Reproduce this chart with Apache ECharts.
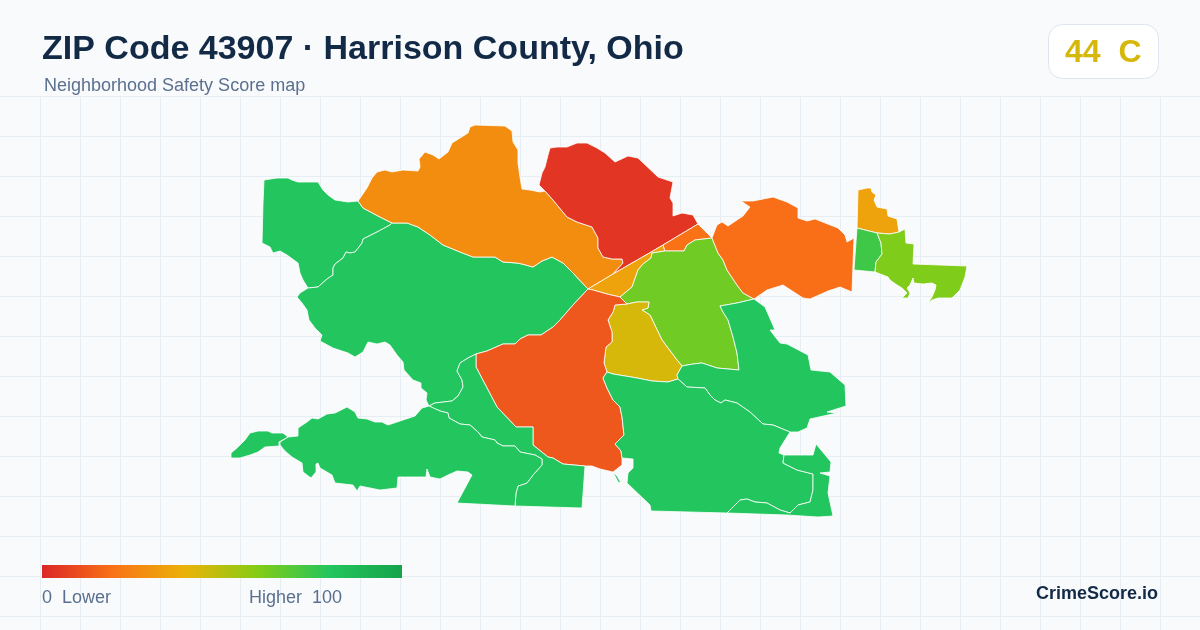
<!DOCTYPE html>
<html>
<head>
<meta charset="utf-8">
<style>html,body{margin:0;padding:0;background:#f8fafc}#c{width:1200px;height:630px}</style>
<script src="https://cdn.jsdelivr.net/npm/echarts@6/dist/echarts.min.js"></script>
</head>
<body>
<div id="c"></div>
<script>
// ----- values -----
const titleText = 'ZIP Code 43907 \u00b7 Harrison County, Ohio';
const subtitleText = 'Neighborhood Safety Score map';
const overallScore = 44;
const overallGrade = 'C';
const legendLow = '0  Lower';
const legendHigh = 'Higher  100';
const brandText = 'CrimeScore.io';
const scaleMin = 0;
const scaleMax = 100;
const scaleColors = ['#dc2626', '#f97316', '#eab308', '#84cc16', '#22c55e', '#16a34a'];
const regionNames = ['NW', 'West', 'North', 'Cadiz North', 'Wedge', 'Sliver', 'Center', 'Core', 'Central South', 'East', 'Tip', 'Pocket', 'Far East', 'South A', 'South B', 'South C', 'South D', 'South E', 'Isle'];
const regionScores = [80, 80, 28, 4, 35, 20, 64, 44, 13, 19, 35, 74, 61, 80, 80, 80, 80, 80, 80];

// ----- traced outlines (shared borders), in map units -----
const g1Orange = [[358,201],[363,208],[378,216],[392,223]];
const g1g2 = [[392,223],[390,225],[377,232],[367,237],[363,239],[362,243],[359,247],[355,252],[350,253],[346,252],[343,258],[335,264],[333,268],[333,275],[327,279],[318,287],[308,288]];
const g1Outer = [[358,201],[348,202],[335,200],[328,195],[323,190],[318,182],[305,182],[298,182],[292,180],[288,178],[277,178],[264,180],[263,203],[262,243],[270,247],[273,253],[280,251],[287,255],[298,263],[300,273],[303,280],[307,287],[308,288]];
const g2Outer = [[308,288],[300,293],[297,297],[302,303],[307,310],[309,320],[315,328],[322,335],[320,341],[333,348],[348,353],[355,357],[363,352],[368,342],[377,344],[385,342],[390,345],[397,355],[403,362],[404,370],[413,380],[421,383],[421,388],[427,393],[426,400],[429,406]];
const g2g3 = [[429,406],[435,403],[452,401],[458,396],[463,387],[462,380],[457,371],[460,363],[468,358],[476,354]];
const g2o2 = [[476,354],[487,351],[503,344],[515,344],[520,339],[528,335],[541,335],[553,327],[560,320],[573,305],[588,289]];
const g2o1 = [[588,289],[573,273],[563,263],[552,257],[542,261],[533,267],[522,264],[517,263],[503,262],[495,257],[473,257],[460,252],[443,245],[430,235],[418,227],[407,223],[392,223]];
const o1Outer = [[358,201],[367,188],[372,178],[377,172],[385,170],[392,172],[403,170],[418,171],[420,167],[419,159],[425,152],[433,155],[439,159],[448,152],[452,143],[460,138],[468,133],[470,127],[475,125],[505,126],[512,131],[513,142],[518,150],[518,163],[520,177],[522,189],[530,190],[540,192],[545,191]];
const o1Red = [[545,191],[553,200],[567,217],[577,222],[592,227],[598,238],[598,248],[603,257],[612,259],[622,259],[623,263],[613,274]];
const diagLow = [[613,274],[588,289]];
const redOuter = [[545,191],[539,185],[542,173],[545,167],[548,155],[550,148],[557,147],[567,147],[577,143],[587,143],[597,148],[605,153],[615,162],[628,156],[638,158],[658,177],[673,182],[670,198],[673,203],[673,216],[682,213],[693,215],[698,224]];
const diagA = [[698,224],[663,245]];
const diagB = [[663,245],[652,251.5],[613,274]];
const w1Lime = [[665,251],[652,253],[651,258],[643,264],[638,270],[632,287],[620,297]];
const w1o2 = [[620,297],[607,294],[593,290],[588,289]];
const o3Lime = [[665,251],[684,251],[687,245],[695,240],[712,238]];
const limeO4 = [[712,238],[718,253],[723,260],[727,270],[737,285],[743,293],[754,299]];
const limeG5 = [[754,299],[737,303],[720,306],[723,312],[728,320],[733,337],[737,353],[739,370],[717,368],[702,363],[693,364],[682,366]];
const limeYellow = [[682,366],[677,360],[668,348],[662,340],[650,315],[642,310],[648,308],[649,302],[637,302],[627,304]];
const limeO2 = [[627,304],[620,297]];
const o2Yellow = [[627,304],[615,305],[613,312],[608,320],[612,332],[612,342],[606,347],[604,363],[607,372]];
const yellowG4 = [[607,372],[613,374],[637,378],[652,381],[668,382],[678,379]];
const yellowG5 = [[678,379],[677,375],[682,366]];
const o2G4 = [[607,372],[603,378],[607,388],[613,400],[620,407],[622,417],[624,435],[615,444],[621,451],[622,458]];
const o2Bottom = [[622,458],[622,465],[613,472],[600,469],[592,466],[585,466]];
const o2g3 = [[585,466],[563,464],[553,458],[548,457],[533,445],[533,427],[516,427],[497,407],[476,367],[476,354]];
const g3g7 = [[429,406],[440,411],[448,413],[449,418],[460,424],[470,425],[478,432],[482,437],[495,440],[497,443],[503,446],[515,446],[520,452],[535,455],[542,459],[542,465],[533,475],[527,483],[518,486],[516,493],[515,506]];
const g3Outer = [[585,466],[582,508],[515,506]];
const g7Outer = [[515,506],[457,503],[472,475],[468,472],[457,471],[448,475],[440,479],[430,477],[427,469],[426,477],[398,477],[397,488],[380,490],[360,486],[357,491],[353,485],[335,483],[332,475],[320,468],[318,463],[316,464],[316,472],[311,478],[303,472],[302,463],[292,457],[285,451],[280,445],[280,442],[288,437],[298,436],[298,428],[307,422],[312,418],[318,419],[327,414],[335,413],[347,407],[355,412],[358,418],[367,419],[375,422],[382,422],[388,425],[403,420],[415,416],[422,408],[429,406]];
const isle = [[231,453],[231,458],[240,458],[250,455],[258,452],[265,447],[279,446],[279,442],[288,437],[283,433],[272,433],[268,431],[258,431],[250,433],[245,440],[237,448]];
const g4g5 = [[678,379],[687,387],[705,388],[710,395],[715,400],[721,403],[725,400],[737,403],[750,412],[763,424],[773,425],[790,432]];
const g5Outer = [[754,299],[765,307],[775,330],[770,330],[773,334],[780,343],[787,344],[808,355],[811,370],[830,372],[845,385],[846,406],[827,412],[837,413],[810,419],[807,428],[798,432],[790,432]];
const g4Notch = [[622,458],[633,459],[633,468],[628,473],[627,483],[650,505],[651,511],[727,513]];
const g4g9 = [[727,513],[740,500],[747,499],[755,502],[767,503],[780,510],[790,513],[798,505],[810,502],[813,490],[813,474],[797,470],[783,463],[784,455]];
const g4Gap = [[784,455],[779,453],[780,448],[790,432]];
const g9Outer = [[784,455],[813,455],[816,444],[831,462],[830,472],[820,473],[830,476],[828,493],[833,516],[818,517],[787,515],[727,513]];
const g4Thread = [[613,472],[618,482],[621,483],[617,476]];
const o4Outer = [[712,238],[715,230],[717,225],[722,222],[728,226],[743,216],[750,207],[741,201],[753,201],[773,197],[787,202],[798,208],[798,218],[807,221],[815,219],[838,228],[845,235],[847,242],[854,238],[852,292],[840,287],[828,291],[810,299],[803,298],[783,285],[767,290],[754,299]];
const tipOuter = [[857,228],[858,190],[867,188],[871,188],[872,192],[876,195],[874,200],[877,207],[887,209],[888,216],[897,219],[899,232]];
const tipLow = [[899,232],[890,234],[877,233]];
const tipPocket = [[877,233],[857,228]];
const pocketFar = [[877,233],[881,243],[882,254],[876,262],[875,272]];
const pocketOuter = [[857,228],[854,270],[875,272]];
const farOuter = [[899,232],[905,229],[906,243],[914,244],[913,264],[967,266],[965,277],[960,290],[952,298],[938,298],[932,300],[929,304],[928,303],[932,297],[935,290],[936,285],[932,283],[923,284],[914,283],[913,278],[910,285],[907,288],[910,293],[908,298],[902,298],[907,293],[902,288],[897,285],[890,280],[888,277],[875,272]];

const rev = a => a.slice().reverse();
// one entry per region, same order as regionNames; each entry is a list of rings built from the borders above
const regionRings = [
  [[g1Orange, g1g2, rev(g1Outer)]],
  [[g1g2, g2Outer, g2g3, g2o2, g2o1]],
  [[g1Orange, rev(g2o1), rev(diagLow), rev(o1Red), rev(o1Outer)]],
  [[redOuter, diagA, diagB, rev(o1Red)]],
  [[rev(diagLow), rev(diagB), [[665,251]], w1Lime, w1o2]],
  [[rev(diagA), [[712,238]], rev(o3Lime)]],
  [[o3Lime, limeO4, limeG5, limeYellow, limeO2, rev(w1Lime)]],
  [[limeYellow, o2Yellow, yellowG4, yellowG5]],
  [[rev(w1o2), rev(limeO2), o2Yellow, o2G4, o2Bottom, o2g3, g2o2]],
  [[limeO4, rev(o4Outer)]],
  [[tipOuter, tipLow, tipPocket]],
  [[pocketOuter, rev(pocketFar), tipPocket]],
  [[pocketFar, rev(farOuter), tipLow]],
  [[g2g3, rev(o2g3), g3Outer, rev(g3g7)]],
  [[g3g7, g7Outer]],
  [[yellowG5, rev(limeG5), g5Outer, rev(g4g5)]],
  [[rev(o2G4), yellowG4, g4g5, rev(g4Gap), rev(g4g9), rev(g4Notch)], [g4Thread]],
  [[g9Outer, g4g9]],
  [[isle]]
];

function closeRing(parts) {
  const ring = [];
  parts.forEach(p => p.forEach(pt => {
    const last = ring[ring.length - 1];
    if (!last || last[0] !== pt[0] || last[1] !== -pt[1]) ring.push([pt[0], -pt[1]]);
  }));
  ring.push(ring[0].slice());
  return ring;
}
const features = regionRings.map((polys, i) => ({
  type: 'Feature',
  properties: { name: regionNames[i] },
  geometry: { type: 'MultiPolygon', coordinates: polys.map(parts => [closeRing(parts)]) }
}));
echarts.registerMap('zip43907', { type: 'FeatureCollection', features });

const chart = echarts.init(document.getElementById('c'), null, { renderer: 'canvas', width: 1200, height: 630 });

const gridLines = [];
for (let x = 40; x < 1200; x += 40) gridLines.push({ type: 'line', z: -5, silent: true, shape: { x1: x + .5, y1: 96, x2: x + .5, y2: 630 }, style: { stroke: '#e7eef3', lineWidth: 1 } });
for (let y = 96; y < 630; y += 40) gridLines.push({ type: 'line', z: -5, silent: true, shape: { x1: 0, y1: y + .5, x2: 1200, y2: y + .5 }, style: { stroke: '#e7eef3', lineWidth: 1 } });

const sans = '"Liberation Sans", Arial, sans-serif';
const txt = (text, x, y, font, fill, align) => ({ type: 'text', x, y, silent: true, z: 20, style: { text, font, fill, align: align || 'left', verticalAlign: 'middle' } });
// square off the rounded ends of the colour bar
const barCap = (x, fill) => ({ type: 'rect', z: 20, silent: true, shape: { x, y: 565, width: 3, height: 13 }, style: { fill } });

chart.setOption({
  backgroundColor: '#f8fafc',
  animation: false,
  visualMap: {
    type: 'continuous', min: scaleMin, max: scaleMax, orient: 'horizontal', left: 27, top: 550,
    itemWidth: 13, itemHeight: 360, calculable: false, realtime: false, text: null, showLabel: false,
    textStyle: { fontSize: 0 }, inRange: { color: scaleColors }, seriesIndex: 0, hoverLink: false
  },
  series: [{
    type: 'map', map: 'zip43907', roam: false, silent: true,
    left: 0, top: 0, width: 1200, height: 630, aspectScale: 1,
    boundingCoords: [[0, 0], [1200, -630]],
    label: { show: false },
    itemStyle: { borderColor: '#ffffff', borderWidth: 0.8 },
    data: regionNames.map((name, i) => ({ name, value: regionScores[i] }))
  }],
  graphic: [
    ...gridLines,
    barCap(42, scaleColors[0]),
    barCap(399, scaleColors[scaleColors.length - 1]),
    { type: 'rect', z: 10, silent: true, shape: { x: 1048.5, y: 24.5, width: 110, height: 54, r: 14 }, style: { fill: '#ffffff', stroke: '#dfe5ee', lineWidth: 1 } },
    txt(titleText, 42, 50, 'bold 34px ' + sans, '#132a47'),
    txt(subtitleText, 44, 86, '18px ' + sans, '#5b708f'),
    txt(overallScore + '  ' + overallGrade, 1065, 53, 'bold 32px ' + sans, '#d6b80b'),
    txt(legendLow, 42, 598, '18px ' + sans, '#5b708f'),
    txt(legendHigh, 249, 598, '18px ' + sans, '#5b708f'),
    txt(brandText, 1158, 594, 'bold 18px ' + sans, '#132a47', 'right')
  ]
});
</script>
</body>
</html>
